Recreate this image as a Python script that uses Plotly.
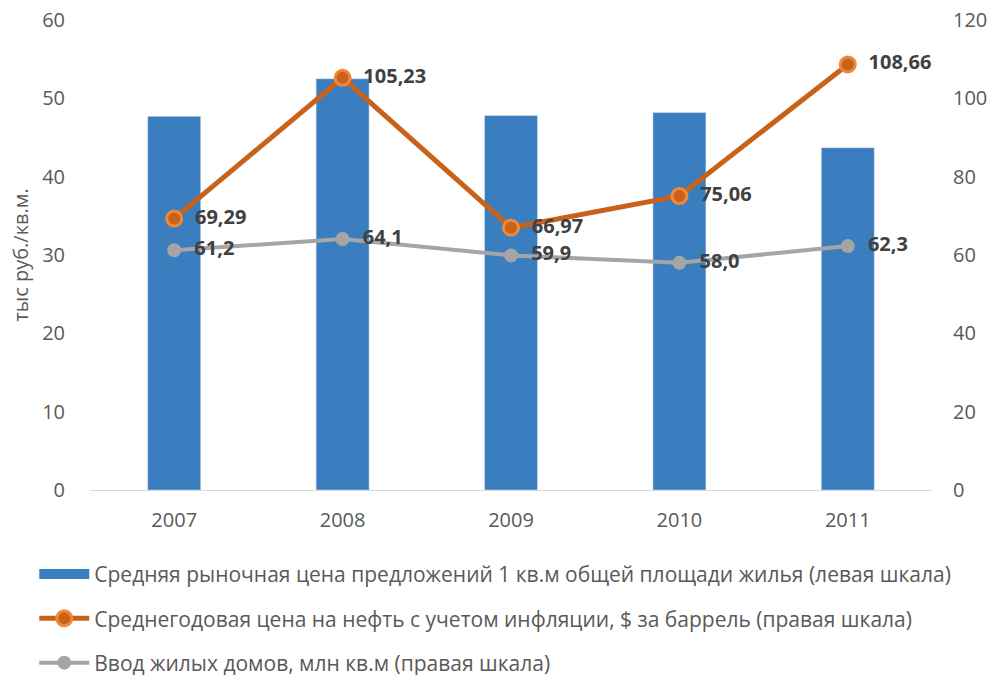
import plotly.graph_objects as go

years = ["2007", "2008", "2009", "2010", "2011"]
price_sqm = [47.7, 52.5, 47.8, 48.2, 43.7]
oil_price = [69.29, 105.23, 66.97, 75.06, 108.66]
oil_labels = ["69,29", "105,23", "66,97", "75,06", "108,66"]
housing = [61.2, 64.1, 59.9, 58.0, 62.3]
housing_labels = ["61,2", "64,1", "59,9", "58,0", "62,3"]

names = [
    "Средняя рыночная цена предложений 1 кв.м общей площади жилья (левая шкала)",
    "Среднегодовая цена на нефть с учетом инфляции, $ за баррель (правая шкала)",
    "Ввод жилых домов, млн кв.м (правая шкала)",
]

FONT = "Open Sans, DejaVu Sans, sans-serif"
LBL = dict(family=FONT, size=20, color="#404040")
TICK = dict(family=FONT, size=20, color="#595959")
PAD = "\u00a0\u00a0"

fig = go.Figure()
fig.add_trace(go.Bar(
    x=years, y=price_sqm, name=names[0], marker_color="#3A7EBF",
    showlegend=False, yaxis="y",
))
# legend swatch for the bars (wide rectangle as in the original)
fig.add_trace(go.Scatter(
    x=[None], y=[None], name=names[0], mode="lines",
    line=dict(color="#3A7EBF", width=12), legendgroup="a", yaxis="y",
    hoverinfo="skip",
))
fig.add_trace(go.Scatter(
    x=years, y=oil_price, name=names[1], mode="lines+markers+text",
    line=dict(color="#C8621A", width=5),
    marker=dict(size=15, color="#C8621A", line=dict(color="#F0883A", width=3)),
    text=["<b>%s%s</b>" % (PAD, t) for t in oil_labels], textposition="middle right",
    textfont=LBL, legendgroup="b", yaxis="y2",
))
fig.add_trace(go.Scatter(
    x=years, y=housing, name=names[2], mode="lines+markers+text",
    line=dict(color="#A5A5A5", width=4),
    marker=dict(size=14, color="#A5A5A5"),
    text=["<b>%s%s</b>" % (PAD, t) for t in housing_labels], textposition="middle right",
    textfont=LBL, legendgroup="c", yaxis="y2",
))

fig.update_layout(
    width=993, height=675,
    margin=dict(l=90, r=61, t=20, b=185, autoexpand=False),
    plot_bgcolor="white", paper_bgcolor="white",
    bargap=0.685,
    showlegend=True,
    legend=dict(
        orientation="v", x=-0.0662, xanchor="left", y=-0.136, yanchor="top",
        font=dict(family=FONT, size=21, color="#595959"),
        traceorder="grouped", tracegroupgap=14, itemwidth=50,
    ),
    xaxis=dict(
        showline=True, linecolor="#D9D9D9", linewidth=1,
        tickfont=TICK, ticks="", showgrid=False, ticklabelstandoff=12,
    ),
    yaxis=dict(
        range=[0, 60], dtick=10, showgrid=False, zeroline=False,
        tickfont=TICK,
        title=dict(text="тыс руб./кв.м.", font=TICK, standoff=8),
        ticklabelstandoff=24,
    ),
    yaxis2=dict(
        range=[0, 120], dtick=20, overlaying="y", side="right", showgrid=False,
        zeroline=False, tickfont=TICK, ticklabelstandoff=20,
    ),
)

fig.write_html(
    "out.html",
    config={"displayModeBar": False},
    post_script="document.body.style.margin='0';document.body.style.overflow='hidden';",
)
